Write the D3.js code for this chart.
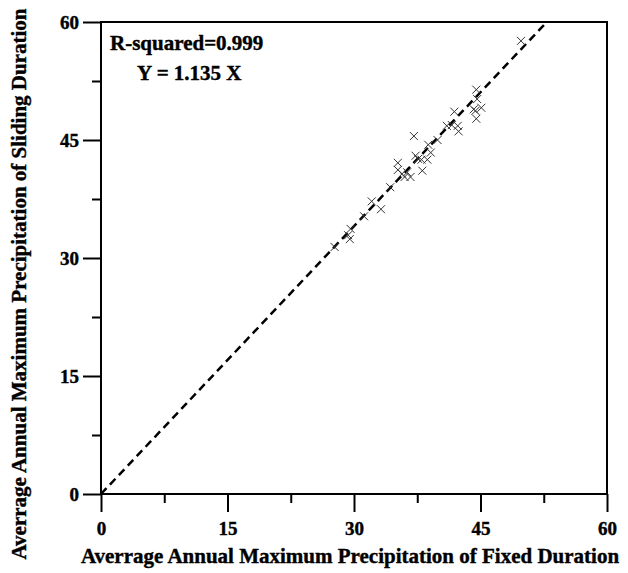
<!DOCTYPE html>
<html>
<head>
<meta charset="utf-8">
<script src="https://cdn.jsdelivr.net/npm/d3@7"></script>
<style>
  body { margin: 0; background: #fff; }
  text { font-family: "Liberation Serif", "Times New Roman", serif; font-weight: bold;
         stroke: #000; stroke-width: 0.4px; }
</style>
</head>
<body>
<div id="chart-area"></div>
<script>
// fixed-duration (x) vs sliding-duration (y) averages
let fixedVals = [49.8, 44.5, 44.6, 44.2, 44.4, 45.1, 44.5, 41.9, 41.0, 41.6, 42.3, 42.4,
    37.1, 39.9, 38.8, 39.1, 37.3, 37.6, 38.0, 38.7, 38.1, 35.2, 35.2, 35.7, 36.3, 36.7,
    36.0, 34.3, 32.1, 33.2, 31.2, 29.6, 29.3, 29.5, 27.7];
let slidingVals = [57.6, 51.4, 50.2, 48.9, 48.7, 49.1, 47.7, 48.6, 46.8, 46.9, 46.8, 46.1,
    45.5, 45.0, 44.4, 43.4, 43.0, 42.6, 42.5, 42.5, 41.1, 42.1, 41.2, 40.7, 40.9, 40.3,
    40.3, 39.0, 37.2, 36.2, 35.3, 33.7, 32.9, 32.4, 31.4];
let majorTicks = [0, 15, 30, 45, 60];
let minorTicks = [7.5, 22.5, 37.5, 52.5];
let slope = 1.135;
let labelR2 = "R-squared=0.999";
let labelFit = "Y = 1.135 X";

let margin = {top: 22, right: 21, bottom: 79, left: 101},
    width = 628 - margin.left - margin.right,
    height = 573 - margin.top - margin.bottom;

let points = fixedVals.map((d, i) => ({x: d, y: slidingVals[i]}));

const svg = d3.select("#chart-area").append("svg")
    .attr("width", 628)
    .attr("height", 573)

const g = svg.append("g")
    .attr("transform", `translate(${margin.left}, ${margin.top})`)

const x = d3.scaleLinear().domain([0, 60]).range([0, width])
const y = d3.scaleLinear().domain([0, 60]).range([height, 0])

// fit line
g.append("line")
    .attr("x1", x(0)).attr("y1", y(0))
    .attr("x2", x(60 / slope)).attr("y2", y(60))
    .attr("stroke", "#000")
    .attr("stroke-width", 2.5)
    .attr("stroke-dasharray", "8,5")

// markers
let s = 4;
let marks = g.selectAll(".pt").data(points).enter().append("g")
    .attr("class", "pt")
    .attr("transform", d => `translate(${x(d.x)}, ${y(d.y)})`)
marks.append("path")
    .attr("d", `M${-s},${-s}L${s},${s}M${-s},${s}L${s},${-s}`)
    .attr("stroke", "#333")
    .attr("stroke-width", 1)
    .attr("fill", "none")

// axes
function styleAxis(sel) {
    sel.select(".domain").remove();
    sel.selectAll("line").attr("stroke", "#000").attr("stroke-width", 2);
    sel.selectAll("text").attr("font-size", "19px").attr("fill", "#000");
}
g.append("g")
    .attr("transform", `translate(0, ${height})`)
    .call(d3.axisBottom(x).tickValues(majorTicks).tickSize(18).tickPadding(10))
    .call(styleAxis)
g.append("g")
    .attr("transform", `translate(0, ${height})`)
    .call(d3.axisBottom(x).tickValues(minorTicks).tickSize(9).tickFormat(""))
    .call(styleAxis)
g.append("g")
    .call(d3.axisLeft(y).tickValues(majorTicks).tickSize(18).tickPadding(4))
    .call(styleAxis)
g.append("g")
    .call(d3.axisLeft(y).tickValues(minorTicks).tickSize(9).tickFormat(""))
    .call(styleAxis)

// frame
g.append("rect")
    .attr("width", width).attr("height", height)
    .attr("fill", "none")
    .attr("stroke", "#000")
    .attr("stroke-width", 2)

// annotation
g.append("text")
    .attr("x", 9).attr("y", 28)
    .attr("font-size", "21px")
    .text(labelR2)
g.append("text")
    .attr("x", 36).attr("y", 58)
    .attr("font-size", "21px")
    .text(labelFit)

// axis titles
svg.append("text")
    .attr("x", 350).attr("y", 563)
    .attr("font-size", "21px")
    .attr("text-anchor", "middle")
    .text("Averrage Annual Maximum Precipitation of Fixed Duration")
svg.append("text")
    .attr("transform", "translate(26, 284) rotate(-90)")
    .attr("font-size", "21px")
    .attr("text-anchor", "middle")
    .text("Averrage Annual Maximum Precipitation of Sliding Duration")
</script>
</body>
</html>
